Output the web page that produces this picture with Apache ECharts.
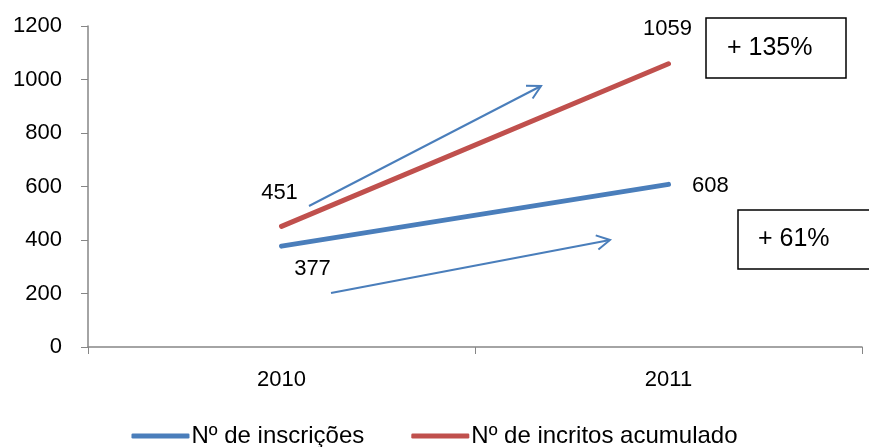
<!DOCTYPE html>
<html>
<head>
<meta charset="utf-8">
<script src="https://cdn.jsdelivr.net/npm/echarts@6/dist/echarts.min.js"></script>
<style>html,body{margin:0;padding:0;background:#fff}#main{width:869px;height:447px}</style>
</head>
<body>
<div id="main"></div>
<script>
var years = ['2010', '2011'];
var inscricoes = [377, 608];
var acumulado = [451, 1059];
var yTicks = [0, 200, 400, 600, 800, 1000, 1200];
var boxTexts = ['+ 135%', '+ 61%'];

var chart = echarts.init(document.getElementById('main'));
var font = 'Liberation Sans';

// seta: linha + duas pernas na ponta
function arrow(x1, y1, x2, y2) {
    var a = Math.atan2(y2 - y1, x2 - x1), L = 15, s = 0.5;
    return [
        {type: 'line', shape: {x1: x1, y1: y1, x2: x2, y2: y2}, style: {stroke: '#4a7ebb', lineWidth: 2}},
        {type: 'polyline', shape: {points: [
            [x2 - L * Math.cos(a - s), y2 - L * Math.sin(a - s)], [x2, y2],
            [x2 - L * Math.cos(a + s), y2 - L * Math.sin(a + s)]]},
         style: {stroke: '#4a7ebb', lineWidth: 2, fill: null}}
    ];
}
function box(x, y, w, h, t, tx) {
    return [
        {type: 'rect', shape: {x: x, y: y, width: w, height: h}, style: {stroke: '#000', lineWidth: 1.5, fill: '#fff'}},
        {type: 'text', x: tx, y: y + h / 2, style: {text: t, font: '25px Liberation Sans', fill: '#000', textVerticalAlign: 'middle'}}
    ];
}

var labStyle = {show: true, color: '#000', fontSize: 22, fontFamily: font};
function lab(pos, off) {
    return Object.assign({}, labStyle, {position: pos, offset: off});
}

option = {
    animation: false,
    grid: {left: 88, right: 7, top: 26, bottom: 100},
    xAxis: {
        type: 'category', data: years, boundaryGap: true,
        axisLine: {lineStyle: {color: '#868686', width: 1.5}},
        axisTick: {show: true, length: 7, lineStyle: {color: '#868686'}},
        axisLabel: {color: '#000', fontSize: 22, fontFamily: font, margin: 22}
    },
    yAxis: {
        type: 'value', min: yTicks[0], max: yTicks[yTicks.length - 1], interval: 200,
        axisLine: {show: true, lineStyle: {color: '#868686', width: 1.5}},
        axisTick: {show: true, length: 7, lineStyle: {color: '#868686'}},
        splitLine: {show: false},
        axisLabel: {color: '#000', fontSize: 22, fontFamily: font, margin: 26,
            formatter: function (v) { return String(v); }}
    },
    legend: {
        bottom: -6, left: 'center', itemGap: 47, itemWidth: 58, itemHeight: 5,
        icon: 'roundRect',
        textStyle: {color: '#000', fontSize: 24, fontFamily: font, padding: [0, 0, 0, -3]},
        data: ['Nº de inscrições', 'Nº de incritos acumulado']
    },
    series: [
        {
            name: 'Nº de inscrições', type: 'line', symbol: 'circle', symbolSize: 1, showSymbol: true,
            lineStyle: {width: 5, color: '#4a7ebb', cap: 'round'}, itemStyle: {color: '#4a7ebb'},
            data: [
                {value: inscricoes[0], label: lab('bottom', [31, 6])},
                {value: inscricoes[1], label: lab('right', [18, 2])}
            ]
        },
        {
            name: 'Nº de incritos acumulado', type: 'line', symbol: 'circle', symbolSize: 1, showSymbol: true,
            lineStyle: {width: 5, color: '#c0504d', cap: 'round'}, itemStyle: {color: '#c0504d'},
            data: [
                {value: acumulado[0], label: lab('top', [-2, -17])},
                {value: acumulado[1], label: lab('top', [-1, -18])}
            ]
        }
    ],
    graphic: [].concat(
        arrow(309, 206, 541, 86),
        arrow(331, 293, 610, 240),
        box(706, 18, 140, 60, boxTexts[0], 727),
        box(738, 210, 140, 59, boxTexts[1], 758)
    )
};

chart.setOption(option);
</script>
</body>
</html>
